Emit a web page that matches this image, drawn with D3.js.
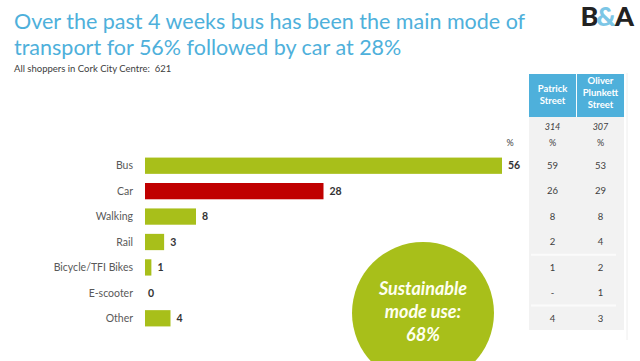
<!DOCTYPE html>
<html>
<head>
<meta charset="utf-8">
<script src="https://cdn.jsdelivr.net/npm/d3@7"></script>
<style>
  body { margin: 0; background: #fff; }
  svg { display: block; font-family: Lato, "Open Sans", sans-serif; }
</style>
</head>
<body>
<div id="chart"></div>
<script>
// data
const categories = ["Bus", "Car", "Walking", "Rail", "Bicycle/TFI Bikes", "E-scooter", "Other"];
const totals = [56, 28, 8, 3, 1, 0, 4];
const patrick = ["59", "26", "8", "2", "1", "-", "4"];
const oliver = ["53", "29", "8", "4", "2", "1", "3"];
const bases = ["314", "307"];
const columns = ["Patrick Street", "Oliver Plunkett Street"];

const width = 640, height = 361;
const green = "#a8bf1a", red = "#c00000", blue = "#4eb0db";

const svg = d3.select("#chart").append("svg")
  .attr("width", width)
  .attr("height", height);

// title
svg.append("text")
  .attr("x", 14).attr("y", 29)
  .attr("fill", blue)
  .style("font-size", "21.5px")
  .text("Over the past 4 weeks bus has been the main mode of");
svg.append("text")
  .attr("x", 14).attr("y", 55)
  .attr("fill", blue)
  .style("font-size", "21.5px")
  .text("transport for 56% followed by car at 28%");
svg.append("text")
  .attr("x", 14).attr("y", 72)
  .attr("fill", "#404040")
  .style("font-size", "9.5px")
  .style("white-space", "pre")
  .text("All shoppers in Cork City Centre:  621");

// logo
const logo = svg.append("text")
  .attr("x", 632).attr("y", 26)
  .attr("text-anchor", "end")
  .style("font-size", "27px")
  .style("font-weight", "900")
  .style("letter-spacing", "-2px")
  .attr("fill", "#222");
logo.append("tspan").text("B");
logo.append("tspan").attr("fill", "#7cc6e6").text("&");
logo.append("tspan").text("A");

// bars
const x = d3.scaleLinear().domain([0, 56]).range([145, 502]);
const y = d3.scaleBand().domain(categories).range([153, 331]).paddingInner(0.36).paddingOuter(0.18);

svg.append("text")
  .attr("x", 510).attr("y", 146)
  .attr("text-anchor", "middle")
  .attr("fill", "#404040")
  .style("font-size", "9px")
  .text("%");

svg.selectAll("rect.bar")
  .data(categories)
  .enter()
  .append("rect")
  .attr("class", "bar")
  .attr("x", x(0))
  .attr("y", d => y(d))
  .attr("width", (d, i) => x(totals[i]) - x(0))
  .attr("height", y.bandwidth())
  .attr("fill", d => d === "Car" ? red : green);

svg.selectAll("text.cat")
  .data(categories)
  .enter()
  .append("text")
  .attr("class", "cat")
  .attr("x", 133)
  .attr("y", d => y(d) + y.bandwidth() / 2)
  .attr("dy", "0.35em")
  .attr("text-anchor", "end")
  .attr("fill", "#595959")
  .style("font-size", "10.5px")
  .text(d => d);

svg.selectAll("text.val")
  .data(categories)
  .enter()
  .append("text")
  .attr("class", "val")
  .attr("x", (d, i) => x(totals[i]) + (totals[i] === 0 ? 3 : 6))
  .attr("y", d => y(d) + y.bandwidth() / 2)
  .attr("dy", "0.35em")
  .attr("fill", "#333")
  .style("font-size", "10.5px")
  .style("font-weight", "700")
  .text((d, i) => totals[i]);

// side table
const colX = d3.scaleBand().domain(columns).range([529, 624]).paddingInner(0.02);

svg.append("rect")
  .attr("x", 529).attr("y", 117)
  .attr("width", 95).attr("height", 213)
  .attr("fill", "#f2f2f2");
svg.append("line")
  .attr("x1", 627).attr("x2", 627).attr("y1", 73).attr("y2", 340)
  .attr("stroke", "#eeeeee");
// faint row dividers between Rail/Bicycle and E-scooter/Other
["Bicycle/TFI Bikes", "Other"].forEach(c => {
  const yy = y(c) - (y.step() - y.bandwidth()) / 2;
  svg.append("line")
    .attr("x1", 531).attr("x2", 616)
    .attr("y1", yy).attr("y2", yy)
    .attr("stroke", "#fbfbfb")
    .attr("stroke-width", 2);
});

columns.forEach((c, i) => {
  svg.append("rect")
    .attr("x", colX(c)).attr("y", 74)
    .attr("width", colX.bandwidth()).attr("height", 43)
    .attr("fill", blue);
  const cx = colX(c) + colX.bandwidth() / 2;
  const words = c === "Patrick Street" ? ["Patrick", "Street"] : ["Oliver", "Plunkett", "Street"];
  const top = words.length === 2 ? 92 : 84;
  words.forEach((w, k) => {
    svg.append("text")
      .attr("x", cx).attr("y", top + k * 12)
      .attr("text-anchor", "middle")
      .attr("fill", "#fff")
      .style("font-size", "9.5px")
      .style("font-weight", "700")
      .text(w);
  });
  svg.append("text")
    .attr("x", cx).attr("y", 130)
    .attr("text-anchor", "middle")
    .attr("fill", "#404040")
    .style("font-size", "9px")
    .style("font-style", "italic")
    .text(bases[i]);
  svg.append("text")
    .attr("x", cx).attr("y", 146)
    .attr("text-anchor", "middle")
    .attr("fill", "#404040")
    .style("font-size", "9px")
    .text("%");
  const vals = i === 0 ? patrick : oliver;
  svg.selectAll("text.tv" + i)
    .data(categories)
    .enter()
    .append("text")
    .attr("class", "tv" + i)
    .attr("x", cx)
    .attr("y", d => y(d) + y.bandwidth() / 2)
    .attr("dy", "0.35em")
    .attr("text-anchor", "middle")
    .attr("fill", "#404040")
    .style("font-size", "9.5px")
    .text((d, k) => vals[k]);
});

// sustainable circle
svg.append("circle")
  .attr("cx", 423).attr("cy", 313)
  .attr("r", 71)
  .attr("fill", green);
["Sustainable", "mode use:", "68%"].forEach((t, k) => {
  svg.append("text")
    .attr("x", 423).attr("y", 295 + k * 23)
    .attr("text-anchor", "middle")
    .attr("fill", "#fffff0")
    .style("font-size", "18px")
    .style("font-weight", "700")
    .style("font-style", "italic")
    .text(t);
});
</script>
</body>
</html>
